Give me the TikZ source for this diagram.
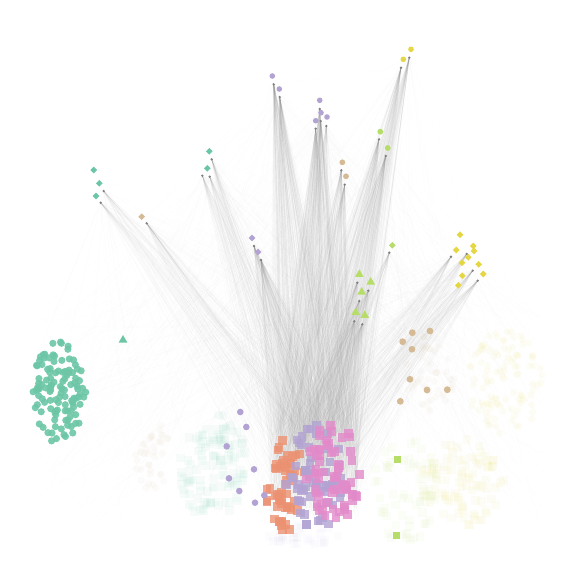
\documentclass[tikz,border=0pt]{standalone}
\usetikzlibrary{shapes.geometric}
\definecolor{NetTeal}{HTML}{6CC6A6}
\definecolor{NetOrange}{HTML}{EC9272}
\definecolor{NetPurple}{HTML}{B2A3D3}
\definecolor{NetPink}{HTML}{E38BCA}
\definecolor{NetGreen}{HTML}{B6DD68}
\definecolor{NetYellow}{HTML}{E4D743}
\definecolor{NetTan}{HTML}{D4BA95}
\definecolor{NetEdge}{HTML}{8A8A8A}
\begin{document}
\begin{tikzpicture}[x=1pt,y=-1pt]
  \tikzset{
    edge/.style={draw=NetEdge,line width=0.35pt,opacity=0.05},
    faredge/.style={draw=NetEdge,line width=0.3pt,opacity=0.025},
    hubdot/.style={circle,fill=black!50,inner sep=0pt,minimum size=2.6pt},
    cmark/.style={circle,inner sep=0pt,minimum size=7.2pt},
    smark/.style={rectangle,inner sep=0pt,minimum size=8.6pt},
    dmark/.style={diamond,inner sep=0pt,minimum size=6.8pt},
    tmark/.style={regular polygon,regular polygon sides=3,inner sep=0pt,minimum size=10pt},
    ghost/.style={opacity=0.055}}
  \useasboundingbox (0,0) rectangle (576,576);
  \pgfmathsetseed{4711}
  % hubs and their edges down to the square cluster
  \foreach \hx/\hy/\n [count=\i] in {103.7/191/28, 100.7/202.7/28, 146.7/223.3/45,
      211.7/159.3/45, 202.3/175.7/35, 209.7/176.7/35, 273.7/84.3/110, 279.7/97/110,
      319.7/109/90, 315.7/128.7/90, 320.7/121/75, 326.3/126/45, 341.3/170.3/75,
      344.7/184.7/75, 379/139.3/80, 385.7/156/80, 409.3/57.7/70, 401/67.7/80,
      254/246/85, 261/260/95, 389.3/252.7/45, 357.3/282.7/55, 368.3/290.7/45,
      359.3/301/55, 354.3/321.3/55, 362.3/324.3/55, 451/256.7/45, 466.7/254/45,
      472.7/270.7/45, 477.7/280.7/45}{
    \coordinate (h\i) at (\hx,\hy);
    \foreach \k in {1,...,\n}{
      \pgfmathsetmacro\tx{314+44*rand}
      \pgfmathsetmacro\ty{470+50*rand}
      \coordinate (e) at (\tx,\ty);
      \draw[edge] (h\i) -- (e);
    }
    \foreach \k in {1,...,22}{
      \pgfmathsetmacro\tx{290+260*rand}
      \pgfmathsetmacro\ty{420+110*rand}
      \coordinate (w) at (\tx,\ty);
      \draw[faredge] (h\i) -- (w);
    }
  }
  % hub to hub links
  \foreach \a/\b in {1/7,2/19,3/9,4/17,5/20,6/15,7/18,8/21,10/27,13/28,16/29,19/30,20/25,14/26,1/17,4/28,7/27}{
    \draw[faredge] (h\a) -- (h\b);
  }
  \foreach \i in {1,...,30}{
    \node[hubdot] (d\i) at (h\i) {};
  }
  % faint background groups
  \foreach \k in {1,...,120}{
    \pgfmathsetmacro\ra{sqrt(rnd)}\pgfmathsetmacro\an{360*rnd}
    \node[smark,ghost,fill=NetTeal] (gt\k) at ({212+34*\ra*cos(\an)},{466+54*\ra*sin(\an)}) {};
  }
  \foreach \k in {1,...,40}{
    \pgfmathsetmacro\ra{sqrt(rnd)}\pgfmathsetmacro\an{360*rnd}
    \node[cmark,ghost,fill=NetTan] (gn\k) at ({152+18*\ra*cos(\an)},{453+38*\ra*sin(\an)}) {};
  }
  \foreach \k in {1,...,110}{
    \pgfmathsetmacro\ra{sqrt(rnd)}\pgfmathsetmacro\an{360*rnd}
    \node[cmark,ghost,fill=NetYellow] (gy\k) at ({505+38*\ra*cos(\an)},{382+52*\ra*sin(\an)}) {};
  }
  \foreach \k in {1,...,90}{
    \pgfmathsetmacro\ra{sqrt(rnd)}\pgfmathsetmacro\an{360*rnd}
    \node[smark,ghost,fill=NetYellow] (gs\k) at ({462+42*\ra*cos(\an)},{482+45*\ra*sin(\an)}) {};
  }
  \foreach \k in {1,...,60}{
    \pgfmathsetmacro\ra{sqrt(rnd)}\pgfmathsetmacro\an{360*rnd}
    \node[smark,ghost,fill=NetGreen] (gg\k) at ({405+34*\ra*cos(\an)},{490+52*\ra*sin(\an)}) {};
  }
  \foreach \k in {1,...,50}{
    \pgfmathsetmacro\ra{sqrt(rnd)}\pgfmathsetmacro\an{360*rnd}
    \node[cmark,ghost,fill=NetTan] (gc\k) at ({430+25*\ra*cos(\an)},{375+40*\ra*sin(\an)}) {};
  }
  \foreach \k in {1,...,30}{
    \pgfmathsetmacro\ra{sqrt(rnd)}\pgfmathsetmacro\an{360*rnd}
    \node[smark,opacity=0.04,fill=NetPurple] (gp\k) at ({300+42*\ra*cos(\an)},{535+10*\ra*sin(\an)}) {};
  }
  % teal circle group
  \foreach \k in {1,...,115}{
    \pgfmathsetmacro\ra{sqrt(rnd)}\pgfmathsetmacro\an{360*rnd}
    \node[cmark,fill=NetTeal,fill opacity=0.9] (t\k) at ({59+27*\ra*cos(\an)},{392+51*\ra*sin(\an)}) {};
  }
  % square cluster
  \foreach \k in {1,...,55}{
    \pgfmathsetmacro\ra{sqrt(rnd)}\pgfmathsetmacro\an{360*rnd}
    \node[smark,fill=NetOrange,fill opacity=0.8] (o\k) at ({285+20*\ra*cos(\an)},{486+47*\ra*sin(\an)}) {};
  }
  \foreach \k in {1,...,65}{
    \pgfmathsetmacro\ra{sqrt(rnd)}\pgfmathsetmacro\an{360*rnd}
    \node[smark,fill=NetPurple,fill opacity=0.8] (p\k) at ({315+29*\ra*cos(\an)},{478+53*\ra*sin(\an)}) {};
  }
  \foreach \k in {1,...,65}{
    \pgfmathsetmacro\ra{sqrt(rnd)}\pgfmathsetmacro\an{360*rnd}
    \node[smark,fill=NetPink,fill opacity=0.8] (k\k) at ({333+27*\ra*cos(\an)},{472+51*\ra*sin(\an)}) {};
  }
  % single markers
  \foreach \x/\y [count=\i] in {93.7/170, 99.3/183.3, 96/196, 209.3/151.3, 207.3/168.3}
    \node[dmark,fill=NetTeal] (td\i) at (\x,\y) {};
  \node[dmark,fill=NetTan] (nd1) at (141.7,216.7) {};
  \node[tmark,fill=NetTeal] (tt1) at (123,340) {};
  \foreach \x/\y [count=\i] in {272.3/76, 279.3/89, 319.7/100.3, 321/112.7, 315.7/120.7, 327/117}
    \node[cmark,minimum size=5.6pt,fill=NetPurple] (pc\i) at (\x,\y) {};
  \foreach \x/\y [count=\i] in {342.3/162.3, 346/176.3}
    \node[cmark,minimum size=5.8pt,fill=NetTan] (nc\i) at (\x,\y) {};
  \foreach \x/\y [count=\i] in {380.3/131.7, 387.7/148}
    \node[cmark,minimum size=5.8pt,fill=NetGreen] (gc\i) at (\x,\y) {};
  \foreach \x/\y [count=\i] in {411/49.3, 403.3/59.3}
    \node[cmark,minimum size=5.6pt,fill=NetYellow] (yc\i) at (\x,\y) {};
  \foreach \x/\y [count=\i] in {252/238, 258/252}
    \node[dmark,fill=NetPurple] (pd\i) at (\x,\y) {};
  \node[dmark,fill=NetGreen] (gd1) at (392.3,245.3) {};
  \foreach \x/\y [count=\i] in {359.3/274.3, 370.7/282, 361.7/292, 355.7/312.3, 364.7/315.3}
    \node[tmark,fill=NetGreen] (gt\i) at (\x,\y) {};
  \foreach \x/\y [count=\i] in {460/234.7, 456.3/250, 473.3/246, 474/251, 468.3/257.3,
      462/262.7, 478.7/264.3, 462.3/275.7, 483.3/274, 458.3/285.3}
    \node[dmark,fill=NetYellow] (yd\i) at (\x,\y) {};
  \foreach \x/\y [count=\i] in {412.3/332.7, 430/331, 402.7/341.7, 412/349.3, 410/379.3,
      427/390, 447.3/389.7, 400.3/401.3}
    \node[cmark,minimum size=6.8pt,fill=NetTan] (nt\i) at (\x,\y) {};
  \foreach \x/\y [count=\i] in {240.3/412, 246.3/427, 226.7/446.3, 254/469.3, 229/478.3,
      239.3/491, 264.3/495.3, 255/502.7}
    \node[cmark,minimum size=6.6pt,fill=NetPurple] (pb\i) at (\x,\y) {};
  \foreach \x/\y [count=\i] in {397.3/459.3, 396.3/535.3}
    \node[smark,minimum size=7.4pt,fill=NetGreen] (gs\i) at (\x,\y) {};
\end{tikzpicture}
\end{document}
